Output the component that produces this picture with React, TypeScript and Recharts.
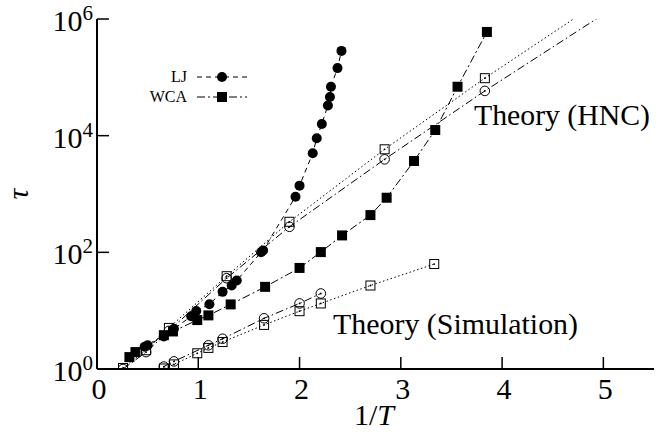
import React from 'react';
import { ComposedChart, Line, XAxis, YAxis, Customized } from 'recharts';

const FONT = '"Liberation Serif", "Times New Roman", serif';

// Simulation: LJ (filled circles) and WCA (filled squares)
const ljX = [0.47, 0.50, 0.66, 0.76, 0.93, 0.98, 1.11, 1.24, 1.33, 1.38, 1.62, 1.64, 1.96, 2.00, 2.13, 2.17, 2.22, 2.28, 2.30, 2.31, 2.375, 2.414];
const ljY = [2.4, 2.55, 3.6, 4.9, 8.0, 9.9, 12.9, 21, 27, 33, 100, 108, 900, 1390, 5000, 9000, 15900, 33000, 46000, 69000, 144000, 284000];
const wcaX = [0.32, 0.38, 0.66, 0.75, 0.99, 1.10, 1.32, 1.66, 2.00, 2.21, 2.42, 2.70, 2.86, 3.13, 3.34, 3.56, 3.85];
const wcaY = [1.6, 1.95, 3.8, 4.4, 6.9, 8.3, 12.8, 25.6, 54, 101, 195, 435, 863, 3680, 12500, 69000, 600000];

// Theory (HNC): open circles (LJ) and open squares (WCA), line continues past last marker
const hncLjX = [0.257, 0.485, 0.71, 1.28, 1.90, 2.84, 3.83];
const hncLjY = [1.0, 1.95, 4.5, 36, 274, 3930, 58500];
const hncLjTail = [5.0, 1.2e6];
const hncWcaX = [0.257, 0.485, 0.71, 1.28, 1.90, 2.84, 3.83];
const hncWcaY = [1.04, 2.1, 5.06, 39, 334, 5840, 96700];
const hncWcaTail = [5.0, 2.2e6];

// Theory (Simulation)
const simLjX = [0.66, 0.76, 1.10, 1.24, 1.65, 2.00, 2.21];
const simLjY = [1.1, 1.35, 2.55, 3.3, 7.4, 13.3, 19.7];
const simWcaX = [0.66, 0.76, 0.99, 1.10, 1.24, 1.65, 2.00, 2.21, 2.70, 3.33];
const simWcaY = [1.02, 1.2, 1.86, 2.3, 2.9, 5.7, 9.8, 13.3, 27, 63];

const xTicks = [0, 1, 2, 3, 4, 5];
const yTicks = [1, 100, 10000, 1000000];
const yExp = ['0', '2', '4', '6'];

const build = (xs: number[], ys: number[], tail?: number[]) => {
  const d = xs.map((x, i) => ({ x, y: ys[i], m: true }));
  if (tail) d.push({ x: tail[0], y: tail[1], m: false });
  return d;
};

const ljData = build(ljX, ljY);
const wcaData = build(wcaX, wcaY);
const hncLjData = build(hncLjX, hncLjY, hncLjTail);
const hncWcaData = build(hncWcaX, hncWcaY, hncWcaTail);
const simLjData = build(simLjX, simLjY);
const simWcaData = build(simWcaX, simWcaY);

const FilledCircle = (cx: number, cy: number, k?: any) => <circle key={k} cx={cx} cy={cy} r={5} fill="#000" />;
const FilledSquare = (cx: number, cy: number, k?: any) => <rect key={k} x={cx - 5} y={cy - 5} width={10} height={10} fill="#000" />;
const OpenSquare = (cx: number, cy: number, k?: any) => (
  <g key={k}>
    <rect x={cx - 4.5} y={cy - 4.5} width={9} height={9} fill="none" stroke="#000" strokeWidth={1} />
    <circle cx={cx} cy={cy} r={0.9} fill="#000" />
  </g>
);
const OpenCircle = (cx: number, cy: number, k?: any) => (
  <g key={k}>
    <circle cx={cx} cy={cy} r={4.8} fill="none" stroke="#000" strokeWidth={1} />
    <circle cx={cx} cy={cy} r={0.9} fill="#000" />
  </g>
);

const dotFn = (shape: (cx: number, cy: number, k?: any) => any) => (props: any) => {
  const { cx, cy, payload, index } = props;
  const k = `d${index}`;
  if (!payload || !payload.m || cx == null || cy == null) return <g key={k} />;
  return shape(cx, cy, k);
};

const BottomTick = (props: any) => {
  const { x, y, payload } = props;
  return (
    <g>
      <line x1={x} y1={y} x2={x} y2={y - 12} stroke="#000" strokeWidth={1.5} />
      <text x={x + 2} y={y + 30} textAnchor="middle" fontSize={30} fontFamily={FONT} fill="#000">{payload.value}</text>
    </g>
  );
};
const TopTick = (props: any) => {
  const { x, y } = props;
  return <line x1={x} y1={y} x2={x} y2={y + 12} stroke="#000" strokeWidth={1.5} />;
};
const LeftTick = (props: any) => {
  const { x, y, payload, index } = props;
  const i = yTicks.indexOf(payload.value);
  return (
    <g>
      <line x1={x} y1={y} x2={x + 12} y2={y} stroke="#000" strokeWidth={1.5} />
      <text x={x - 4} y={y + 12} textAnchor="end" fontSize={30} fontFamily={FONT} fill="#000">
        <tspan>10</tspan>
        <tspan dy={-11} fontSize={21}>{yExp[i >= 0 ? i : index]}</tspan>
      </text>
    </g>
  );
};
const RightTick = (props: any) => {
  const { x, y } = props;
  return <line x1={x} y1={y} x2={x - 12} y2={y} stroke="#000" strokeWidth={1.5} />;
};

const Overlay = () => (
  <g fontFamily={FONT} fill="#000">
    <text x={474} y={125} fontSize={30} textLength={176} lengthAdjust="spacingAndGlyphs">Theory (HNC)</text>
    <text x={333} y={334} fontSize={30} textLength={245} lengthAdjust="spacingAndGlyphs">Theory (Simulation)</text>
    <text x={374} y={425} fontSize={30} textAnchor="middle">
      <tspan>1/</tspan>
      <tspan fontStyle="italic">T</tspan>
    </text>
    <text x={28} y={194} fontSize={30} fontStyle="italic" textAnchor="middle" transform="rotate(-90, 28, 194)">τ</text>
    <text x={187} y={82} fontSize={16} textAnchor="end">LJ</text>
    <text x={187} y={102} fontSize={16} textAnchor="end">WCA</text>
    <line x1={197} y1={77} x2={247} y2={77} stroke="#000" strokeWidth={1} strokeDasharray="5 4" />
    {FilledCircle(222, 77)}
    <line x1={197} y1={97} x2={247} y2={97} stroke="#000" strokeWidth={1} strokeDasharray="8 3 2 3" />
    {FilledSquare(222, 97)}
  </g>
);

const axisLine = { stroke: '#000', strokeWidth: 2 };

export default function App() {
  return (
    <div style={{ position: 'absolute', left: 0, top: 0, background: '#fff' }}>
      <ComposedChart width={664} height={432} margin={{ top: 19, right: 10, bottom: 0, left: 0 }}>
        <XAxis xAxisId={0} type="number" dataKey="x" domain={[0, 5.5]} ticks={xTicks} interval={0}
          height={63} tickSize={0} tickMargin={0} tickLine={false} axisLine={axisLine} tick={<BottomTick />} allowDataOverflow />
        <XAxis xAxisId="top" orientation="top" type="number" dataKey="x" domain={[0, 5.5]} ticks={xTicks} interval={0}
          height={0} tickSize={0} tickMargin={0} tickLine={false} axisLine={axisLine} tick={<TopTick />} allowDataOverflow />
        <YAxis yAxisId={0} type="number" scale="log" dataKey="y" domain={[1, 1000000]} ticks={yTicks} interval={0}
          width={97} tickSize={0} tickMargin={0} tickLine={false} axisLine={axisLine} tick={<LeftTick />} allowDataOverflow />
        <YAxis yAxisId="right" orientation="right" type="number" scale="log" dataKey="y" domain={[1, 1000000]} ticks={yTicks} interval={0}
          width={0} tickSize={0} tickMargin={0} tickLine={false} axisLine={axisLine} tick={<RightTick />} allowDataOverflow />

        <Line data={hncWcaData} dataKey="y" type="linear" stroke="#000" strokeWidth={1} strokeDasharray="1.5 2.5"
          dot={dotFn(OpenSquare)} activeDot={false} isAnimationActive={false} />
        <Line data={hncLjData} dataKey="y" type="linear" stroke="#000" strokeWidth={1} strokeDasharray="8 3 1.5 3"
          dot={dotFn(OpenCircle)} activeDot={false} isAnimationActive={false} />
        <Line data={simWcaData} dataKey="y" type="linear" stroke="#000" strokeWidth={1} strokeDasharray="1.5 2.5"
          dot={dotFn(OpenSquare)} activeDot={false} isAnimationActive={false} />
        <Line data={simLjData} dataKey="y" type="linear" stroke="#000" strokeWidth={1} strokeDasharray="8 3 1.5 3"
          dot={dotFn(OpenCircle)} activeDot={false} isAnimationActive={false} />
        <Line data={wcaData} dataKey="y" type="linear" stroke="#000" strokeWidth={1} strokeDasharray="8 3 2 3"
          dot={dotFn(FilledSquare)} activeDot={false} isAnimationActive={false} />
        <Line data={ljData} dataKey="y" type="linear" stroke="#000" strokeWidth={1} strokeDasharray="5 4"
          dot={dotFn(FilledCircle)} activeDot={false} isAnimationActive={false} />
        <Customized component={Overlay} />
      </ComposedChart>
    </div>
  );
}
